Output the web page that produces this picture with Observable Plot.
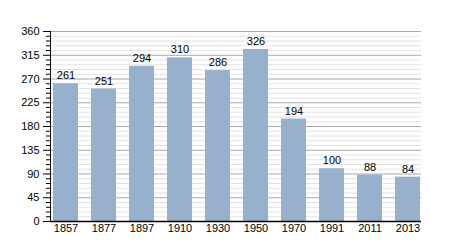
<!DOCTYPE html>
<html>
<head>
<meta charset="utf-8">
<script src="https://cdn.jsdelivr.net/npm/d3@7"></script>
<script src="https://cdn.jsdelivr.net/npm/@observablehq/plot@0.6"></script>
<style>
  html, body { margin: 0; padding: 0; background: #fff; }
</style>
</head>
<body>
<div id="chart"></div>
<script>
const years = ["1857", "1877", "1897", "1910", "1930", "1950", "1970", "1991", "2011", "2013"];
const population = [261, 251, 294, 310, 286, 326, 194, 100, 88, 84];
const majorTicks = [0, 45, 90, 135, 180, 225, 270, 315, 360];
const minorTicks = d3.range(0, 361, 9).filter(v => v % 45 !== 0);

const data = years.map((y, i) => ({year: y, value: population[i]}));

const chart = Plot.plot({
  width: 450,
  height: 250,
  marginLeft: 50,
  marginRight: 29,
  marginTop: 31,
  marginBottom: 29,
  style: {fontFamily: "'Liberation Sans', Arial, sans-serif", fontSize: "11px", background: "#fff", color: "#000"},
  x: {domain: years, range: [51.5, 421], paddingInner: 0.35, paddingOuter: 0, label: null},
  y: {domain: [0, 360], label: null},
  marks: [
    Plot.ruleY(minorTicks, {stroke: "#e2e2e2", strokeWidth: 1}),
    Plot.ruleY(majorTicks, {stroke: "#a8a8a8", strokeWidth: 1}),
    Plot.barY(data, {x: "year", y: "value", fill: "#97b0cc"}),
    Plot.text(data, {x: "year", y: "value", text: d => String(d.value), dy: -8, fill: "#000", fontSize: 11}),
    Plot.axisY(minorTicks, {tickSize: 4, tickFormat: () => "", stroke: "#000"}),
    Plot.axisY(majorTicks, {tickSize: 7, tickPadding: 4, stroke: "#000", fill: "#000", fontSize: 11}),
    Plot.axisX({tickSize: 0, tickPadding: 3, fill: "#000", fontSize: 11}),
    Plot.frame({anchor: "left", stroke: "#000"}),
    Plot.ruleY([0], {stroke: "#000", strokeWidth: 1.5})
  ]
});
document.getElementById("chart").appendChild(chart);
</script>
</body>
</html>
